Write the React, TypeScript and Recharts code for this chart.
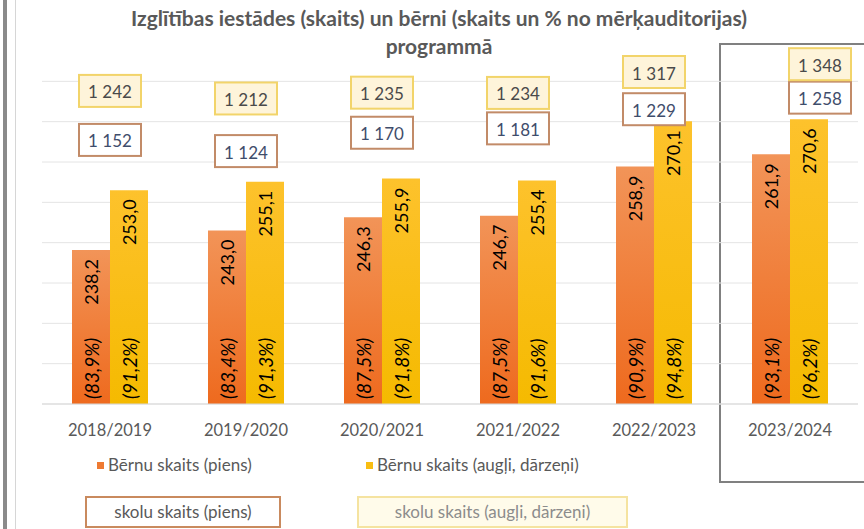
import React from 'react';
import { ComposedChart, CartesianGrid, XAxis, YAxis, Bar, Line, LabelList } from 'recharts';

const categories = ['2018/2019', '2019/2020', '2020/2021', '2021/2022', '2022/2023', '2023/2024'];
const childrenMilk = [238.2, 243.0, 246.3, 246.7, 258.9, 261.9];
const childrenFruit = [253.0, 255.1, 255.9, 255.4, 270.1, 270.6];
const shareMilk = [83.9, 83.4, 87.5, 87.5, 90.9, 93.1];
const shareFruit = [91.2, 91.3, 91.8, 91.6, 94.8, 96.2];
const schoolsMilk = [1152, 1124, 1170, 1181, 1229, 1258];
const schoolsFruit = [1242, 1212, 1235, 1234, 1317, 1348];
const gridTicks = [200, 210, 220, 230, 240, 250, 260, 270, 280];
const mainDomain = [200, 290];

const data = categories.map((year, i) => ({
  year,
  childrenMilk: childrenMilk[i],
  childrenFruit: childrenFruit[i],
  shareMilk: shareMilk[i],
  shareFruit: shareFruit[i],
  schoolsMilk: schoolsMilk[i],
  schoolsFruit: schoolsFruit[i],
}));

const FONT = 'Lato, "Open Sans", sans-serif';

const fmtDec = (v: number) => v.toFixed(1).replace('.', ',');
const fmtThousands = (v: number) => `${Math.floor(v / 1000)} ${String(v % 1000).padStart(3, '0')}`;

const ValueLabel = (props: any) => {
  const { x, y, width, value, fill } = props;
  const cx = x + width / 2;
  const cy = y + 9;
  return (
    <text x={cx} y={cy} transform={`rotate(-90 ${cx} ${cy})`} textAnchor="end" dominantBaseline="central"
      fontFamily={FONT} fontSize={18} fill={fill}>
      {fmtDec(value)}
    </text>
  );
};

const ShareLabel = (props: any) => {
  const { x, y, width, height, value, fill } = props;
  const cx = x + width / 2;
  const cy = y + height - 5;
  return (
    <text x={cx} y={cy} transform={`rotate(-90 ${cx} ${cy})`} textAnchor="start" dominantBaseline="central"
      fontFamily={FONT} fontSize={19} fontStyle="italic" fill={fill}>
      {`(${fmtDec(value)}%)`}
    </text>
  );
};

const boxLabel = (stroke: string, bg: string, color: string) => (props: any) => {
  const { x, y, value, index } = props;
  const shift = index === categories.length - 1 ? 30 : 0;
  const w = 62;
  const h = 32;
  return (
    <g>
      <rect x={x + shift - w / 2} y={y - h / 2} width={w} height={h} fill={bg} stroke={stroke} strokeWidth={2} />
      <text x={x + shift} y={y + 1} textAnchor="middle" dominantBaseline="central" fontFamily={FONT} fontSize={17} fill={color}>
        {fmtThousands(value)}
      </text>
    </g>
  );
};

// grid only on the labelled ticks, not on the top edge of the plot
const gridRows = ({ offset }: any) => {
  const [lo, hi] = mainDomain;
  return gridTicks.map((t) => offset.top + (offset.height * (hi - t)) / (hi - lo));
};

export default function App() {
  return (
    <div style={{ position: 'absolute', left: 0, top: 0, width: 864, height: 529, overflow: 'hidden', background: '#fff', fontFamily: FONT }}>
      <div style={{ position: 'absolute', left: 3, top: 0, width: 4, height: 529, background: '#8a8a8a' }} />
      <div style={{ position: 'absolute', left: 15, top: 0, width: 1, height: 529, background: '#d6d6d6' }} />
      <div style={{ position: 'absolute', left: 0, top: 4, width: 864, paddingLeft: 14, boxSizing: 'border-box', textAlign: 'center', fontWeight: 700, fontSize: 21, lineHeight: '28px', color: '#595959' }}>
        Izglītības iestādes (skaits) un bērni (skaits un % no mērķauditorijas)
        <br />
        programmā
      </div>
      <div style={{ position: 'absolute', left: 719, top: 43, width: 200, height: 436, border: '2px solid #808080' }} />
      <div style={{ position: 'absolute', left: 0, top: 0 }}>
        <ComposedChart width={864} height={529} data={data} margin={{ top: 41, right: 6, bottom: 95, left: 42 }} barGap={0} barSize={38}>
          <defs>
            <linearGradient id="gOrange" x1="0" y1="0" x2="0" y2="1">
              <stop offset="0%" stopColor="#F29458" />
              <stop offset="100%" stopColor="#EE6A1E" />
            </linearGradient>
            <linearGradient id="gYellow" x1="0" y1="0" x2="0" y2="1">
              <stop offset="0%" stopColor="#FDC22C" />
              <stop offset="100%" stopColor="#F5BA00" />
            </linearGradient>
          </defs>
          <CartesianGrid yAxisId="main" vertical={false} stroke="#e4e4e4" horizontalCoordinatesGenerator={gridRows} />
          <XAxis dataKey="year" axisLine={{ stroke: '#d9d9d9' }} tickLine={false} tickSize={6} tickMargin={14}
            tick={{ fill: '#595959', fontSize: 16.5, fontFamily: FONT }} height={30} />
          <YAxis yAxisId="main" domain={mainDomain} ticks={gridTicks} hide />
          <YAxis yAxisId="milkSchools" domain={[490, 1400]} hide />
          <YAxis yAxisId="fruitSchools" domain={[0, 1440]} hide />
          <Bar yAxisId="main" dataKey="childrenMilk" fill="url(#gOrange)" isAnimationActive={false}>
            <LabelList dataKey="childrenMilk" content={<ValueLabel fill="#6a4530" />} />
            <LabelList dataKey="shareMilk" content={<ShareLabel fill="#6a4530" />} />
          </Bar>
          <Bar yAxisId="main" dataKey="childrenFruit" fill="url(#gYellow)" isAnimationActive={false}>
            <LabelList dataKey="childrenFruit" content={<ValueLabel fill="#6a5a30" />} />
            <LabelList dataKey="shareFruit" content={<ShareLabel fill="#6a5a30" />} />
          </Bar>
          <Line yAxisId="milkSchools" dataKey="schoolsMilk" stroke="none" dot={false} activeDot={false} isAnimationActive={false}>
            <LabelList dataKey="schoolsMilk" content={boxLabel('#C28B68', '#ffffff', '#3f4d6b')} />
          </Line>
          <Line yAxisId="fruitSchools" dataKey="schoolsFruit" stroke="none" dot={false} activeDot={false} isAnimationActive={false}>
            <LabelList dataKey="schoolsFruit" content={boxLabel('#F2D46A', '#FEF4DA', '#4a4a4a')} />
          </Line>
        </ComposedChart>
      </div>
      <div style={{ position: 'absolute', left: 97, top: 462, width: 7, height: 7, background: '#EE7A32' }} />
      <div style={{ position: 'absolute', left: 108, top: 455, fontSize: 17, lineHeight: '20px', color: '#595959' }}>Bērnu skaits (piens)</div>
      <div style={{ position: 'absolute', left: 366, top: 462, width: 7, height: 7, background: '#F9BE12' }} />
      <div style={{ position: 'absolute', left: 377, top: 455, fontSize: 17, lineHeight: '20px', color: '#595959' }}>Bērnu skaits (augļi, dārzeņi)</div>
      <div style={{ position: 'absolute', left: 85, top: 496, width: 196, height: 32, boxSizing: 'border-box', border: '2px solid #C98A5E', background: '#fff', fontSize: 17, lineHeight: '28px', textAlign: 'center', color: '#595959' }}>
        skolu skaits (piens)
      </div>
      <div style={{ position: 'absolute', left: 357, top: 496, width: 271, height: 32, boxSizing: 'border-box', border: '2px solid #F5E3A0', background: '#FFFBEA', fontSize: 17, lineHeight: '28px', textAlign: 'center', color: '#8c8c8c' }}>
        skolu skaits (augļi, dārzeņi)
      </div>
    </div>
  );
}
